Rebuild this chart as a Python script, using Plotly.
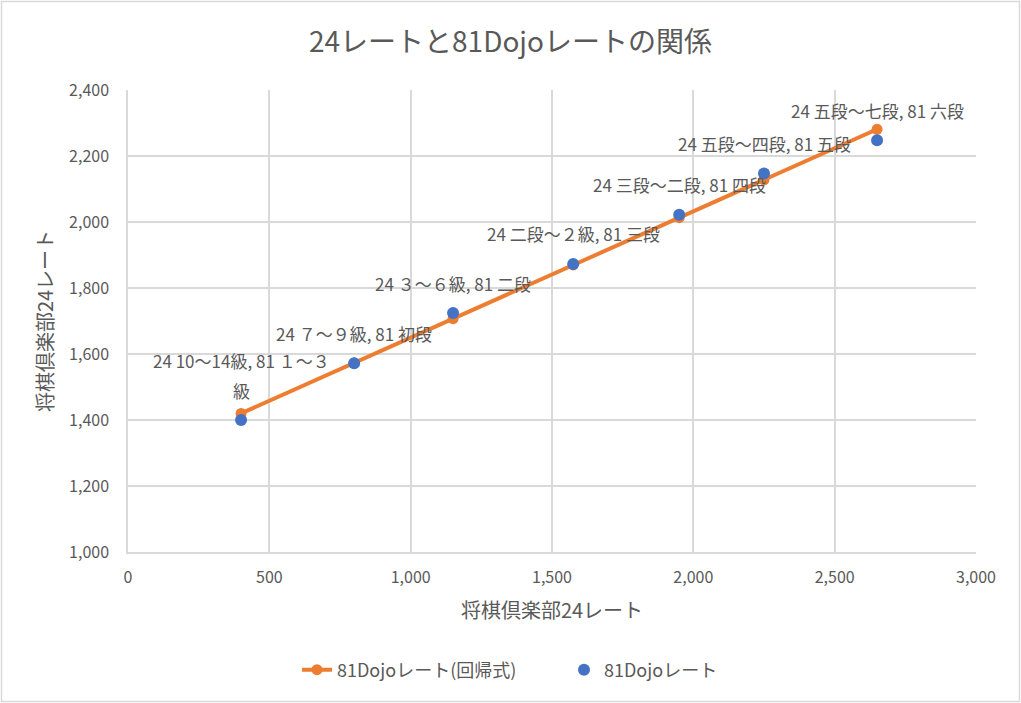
import plotly.graph_objects as go

# 将棋倶楽部24 rate (x) vs 81Dojo rate (y)
rate24 = [400, 800, 1150, 1575, 1950, 2250, 2650]
dojo_actual = [1400, 1572, 1724, 1873, 2022, 2147, 2248]
dojo_fit = [1420, 1573, 1707, 1870, 2013, 2128, 2281]
point_labels = [
    "24 10～14級, 81 １～３",
    "24 ７～９級, 81 初段",
    "24 ３～６級, 81 二段",
    "24 二段～２級, 81 三段",
    "24 三段～二段, 81 四段",
    "24 五段～四段, 81 五段",
    "24 五段～七段, 81 六段",
]
# the first label wraps in the original chart
label_wrap = ["級", "", "", "", "", "", ""]
x_ticks = [0, 500, 1000, 1500, 2000, 2500, 3000]
y_ticks = [1000, 1200, 1400, 1600, 1800, 2000, 2200, 2400]

FONT = "Noto Sans CJK JP"
TEXT = "#595959"
GRID = "#d9d9d9"

W, H = 1021, 703
L, R, T, B = 128, 45, 90, 151
pw, ph = W - L - R, H - T - B

fig = go.Figure()

fig.add_trace(go.Scatter(
    x=rate24, y=dojo_fit,
    mode="lines+markers",
    name="81Dojoレート(回帰式)",
    line=dict(color="#ED7D31", width=4),
    marker=dict(color="#ED7D31", size=11),
))

fig.add_trace(go.Scatter(
    x=rate24, y=dojo_actual,
    mode="markers",
    name="81Dojoレート",
    marker=dict(color="#4472C4", size=12),
))

for xv, yv, txt, extra in zip(rate24, dojo_actual, point_labels, label_wrap):
    shift = 30
    if extra:
        fig.add_annotation(
            x=xv, y=yv, text=extra, showarrow=False,
            yanchor="middle", yshift=shift,
            font=dict(family=FONT, size=17, color=TEXT),
        )
        shift = 60
    fig.add_annotation(
        x=xv, y=yv, text=txt, showarrow=False,
        yanchor="middle", yshift=shift,
        font=dict(family=FONT, size=17, color=TEXT),
    )

# chart border
fig.add_shape(
    type="rect", xref="paper", yref="paper",
    x0=(1.5 - L) / pw, x1=(W - 1.5 - L) / pw,
    y0=(T + ph - (H - 1.5)) / ph, y1=(T + ph - 1.5) / ph,
    line=dict(color=GRID, width=1.5), layer="below",
)

fig.update_layout(
    width=W, height=H,
    margin=dict(l=L, r=R, t=T, b=B),
    paper_bgcolor="white", plot_bgcolor="white",
    font=dict(family=FONT, color=TEXT),
    title=dict(text="24レートと81Dojoレートの関係", x=0.5, xanchor="center",
               y=1 - 42 / H, yanchor="middle",
               font=dict(family=FONT, size=28, color=TEXT)),
    showlegend=True,
    legend=dict(orientation="h", x=0.5 + 12 / pw, xanchor="center",
                y=-(670 - T - ph) / ph, yanchor="middle",
                entrywidth=222,
                font=dict(family=FONT, size=18, color=TEXT)),
)

fig.update_xaxes(
    range=[0, 3000], tickvals=x_ticks, tickformat=",d",
    showgrid=True, gridcolor=GRID, gridwidth=1.5,
    showline=True, linecolor=GRID, linewidth=1.5, zeroline=False,
    ticks="", ticklabelstandoff=10,
    tickfont=dict(family=FONT, size=16, color=TEXT),
    title=dict(text="将棋倶楽部24レート", standoff=17,
               font=dict(family=FONT, size=20, color=TEXT)),
)
fig.update_yaxes(
    range=[1000, 2400], tickvals=y_ticks, tickformat=",d",
    showgrid=True, gridcolor=GRID, gridwidth=1.5,
    showline=True, linecolor=GRID, linewidth=1.5, zeroline=False,
    ticks="", ticklabelstandoff=14,
    tickfont=dict(family=FONT, size=16, color=TEXT),
    title=dict(text="将棋倶楽部24レート", standoff=10,
               font=dict(family=FONT, size=20, color=TEXT)),
)

fig.write_html("out.html", config={"displayModeBar": False},
               post_script="document.body.style.margin='0';")
